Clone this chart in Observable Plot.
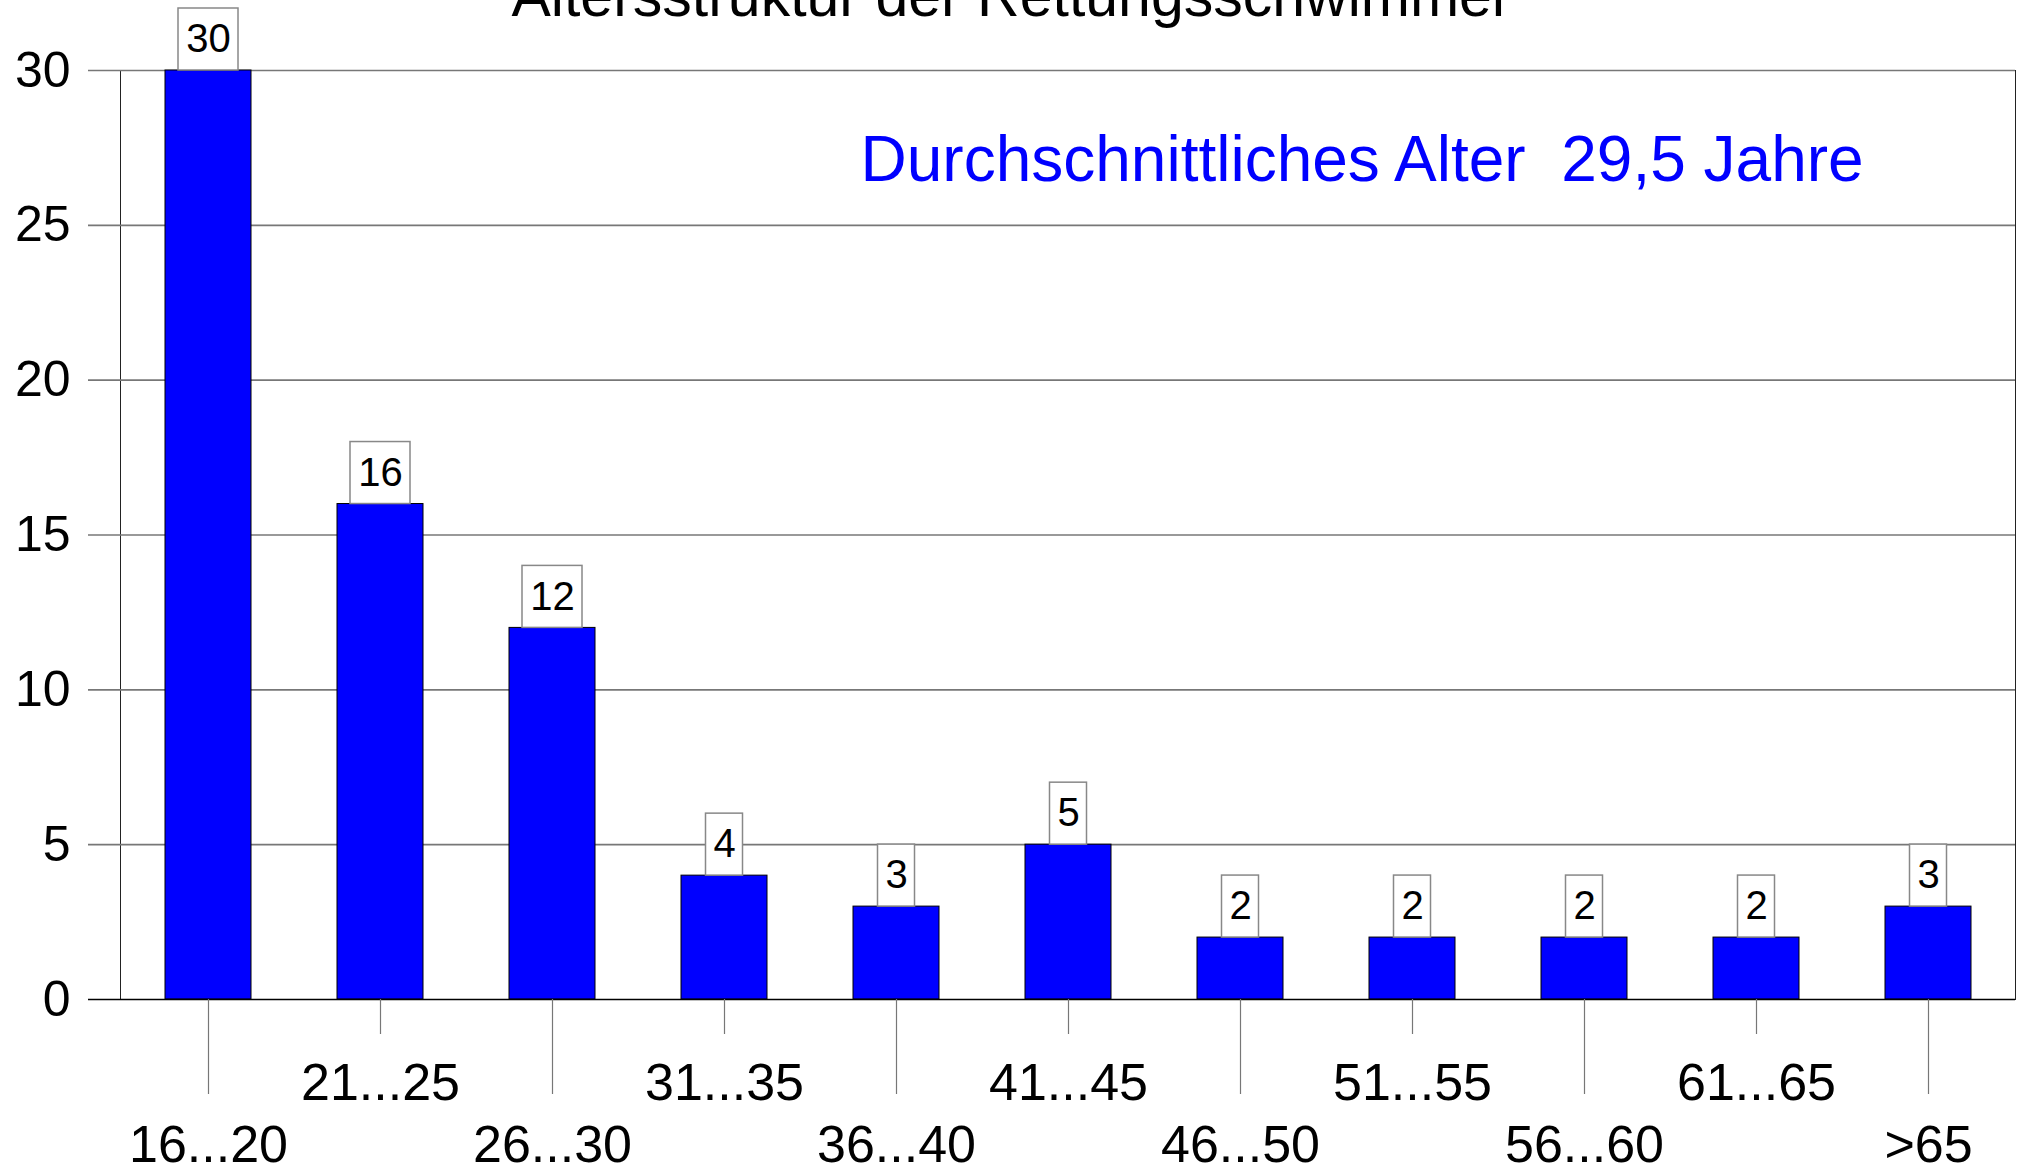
<!DOCTYPE html>
<html>
<head>
<meta charset="utf-8">
<script src="https://cdn.jsdelivr.net/npm/d3@7"></script>
<script src="https://cdn.jsdelivr.net/npm/@observablehq/plot@0.6"></script>
<style>
  html, body { margin: 0; padding: 0; background: #fff; overflow: hidden; }
  #chart svg { display: block; }
</style>
</head>
<body>
<div id="chart"></div>
<script>
// ---- data ----
const categories = ["16...20", "21...25", "26...30", "31...35", "36...40", "41...45",
                    "46...50", "51...55", "56...60", "61...65", ">65"];
const counts = [30, 16, 12, 4, 3, 5, 2, 2, 2, 2, 3];
const yTicks = [0, 5, 10, 15, 20, 25, 30];
const titleText = "Altersstruktur der Rettungsschwimmer";
const noteText = "Durchschnittliches Alter\u00A0 29,5 Jahre";

const data = categories.map((c, i) => ({cat: c, count: counts[i], row: i % 2}));
const upper = data.filter(d => d.row === 1);  // short ticks, first label row
const lower = data.filter(d => d.row === 0);  // long ticks, second label row

const W = 2020, H = 1169;
const mL = 120, mR = 5, mT = 70, mB = 170;
const frameH = H - mT - mB;
const frameCx = mL + (W - mL - mR) / 2;
const FONT = "'Liberation Sans', Arial, Helvetica, sans-serif";

const chart = Plot.plot({
  width: W,
  height: H,
  marginLeft: mL,
  marginRight: mR,
  marginTop: mT,
  marginBottom: mB,
  style: {fontFamily: FONT, fontSize: "50px", color: "#000", background: "#fff", overflow: "visible"},
  x: {domain: categories, paddingInner: 0.5, paddingOuter: 0.25, axis: null},
  y: {domain: [0, 30], ticks: yTicks, tickSize: 0, tickPadding: 50, label: null},
  marks: [
    Plot.frame({stroke: "#222", strokeWidth: 1}),
    Plot.ruleY(yTicks.filter(t => t > 0), {stroke: "#777", strokeWidth: 1.6, insetLeft: -32}),
    Plot.barY(data, {x: "cat", y: "count", fill: "#0000ff", stroke: "#000", strokeWidth: 1}),
    Plot.ruleY([0], {stroke: "#000", strokeWidth: 1.6, insetLeft: -32}),
    // value boxes
    Plot.barY(data.filter(d => d.count >= 10), {x: "cat", y1: "count", y2: "count", insetTop: -62,
      insetLeft: 13, insetRight: 13, fill: "#fff", stroke: "#888", strokeWidth: 1.5}),
    Plot.barY(data.filter(d => d.count < 10), {x: "cat", y1: "count", y2: "count", insetTop: -62,
      insetLeft: 24.5, insetRight: 24.5, fill: "#fff", stroke: "#888", strokeWidth: 1.5}),
    Plot.text(data, {x: "cat", y: "count", text: d => String(d.count), dy: -31,
      lineAnchor: "middle", fontSize: 40, fill: "#000"}),
    // category ticks below the axis
    Plot.ruleX(upper, {x: "cat", insetTop: frameH, insetBottom: -35, stroke: "#777", strokeWidth: 1.2}),
    Plot.ruleX(lower, {x: "cat", insetTop: frameH, insetBottom: -95, stroke: "#777", strokeWidth: 1.2}),
    // category labels
    Plot.text(upper, {x: "cat", text: "cat", frameAnchor: "bottom", dy: 100, lineAnchor: "bottom",
      fontSize: 52, fill: "#000"}),
    Plot.text(lower, {x: "cat", text: "cat", frameAnchor: "bottom", dy: 162, lineAnchor: "bottom",
      fontSize: 52, fill: "#000"}),
    // title and note
    Plot.text([titleText], {frameAnchor: "top", dx: 1011 - frameCx, dy: 15 - mT, lineAnchor: "bottom",
      fontSize: 59, fill: "#000"}),
    Plot.text([noteText], {frameAnchor: "top-left", dx: 860 - mL, dy: 180 - mT, lineAnchor: "bottom",
      textAnchor: "start", fontSize: 64, fill: "#0000ff"})
  ]
});
document.getElementById("chart").appendChild(chart);
</script>
</body>
</html>
